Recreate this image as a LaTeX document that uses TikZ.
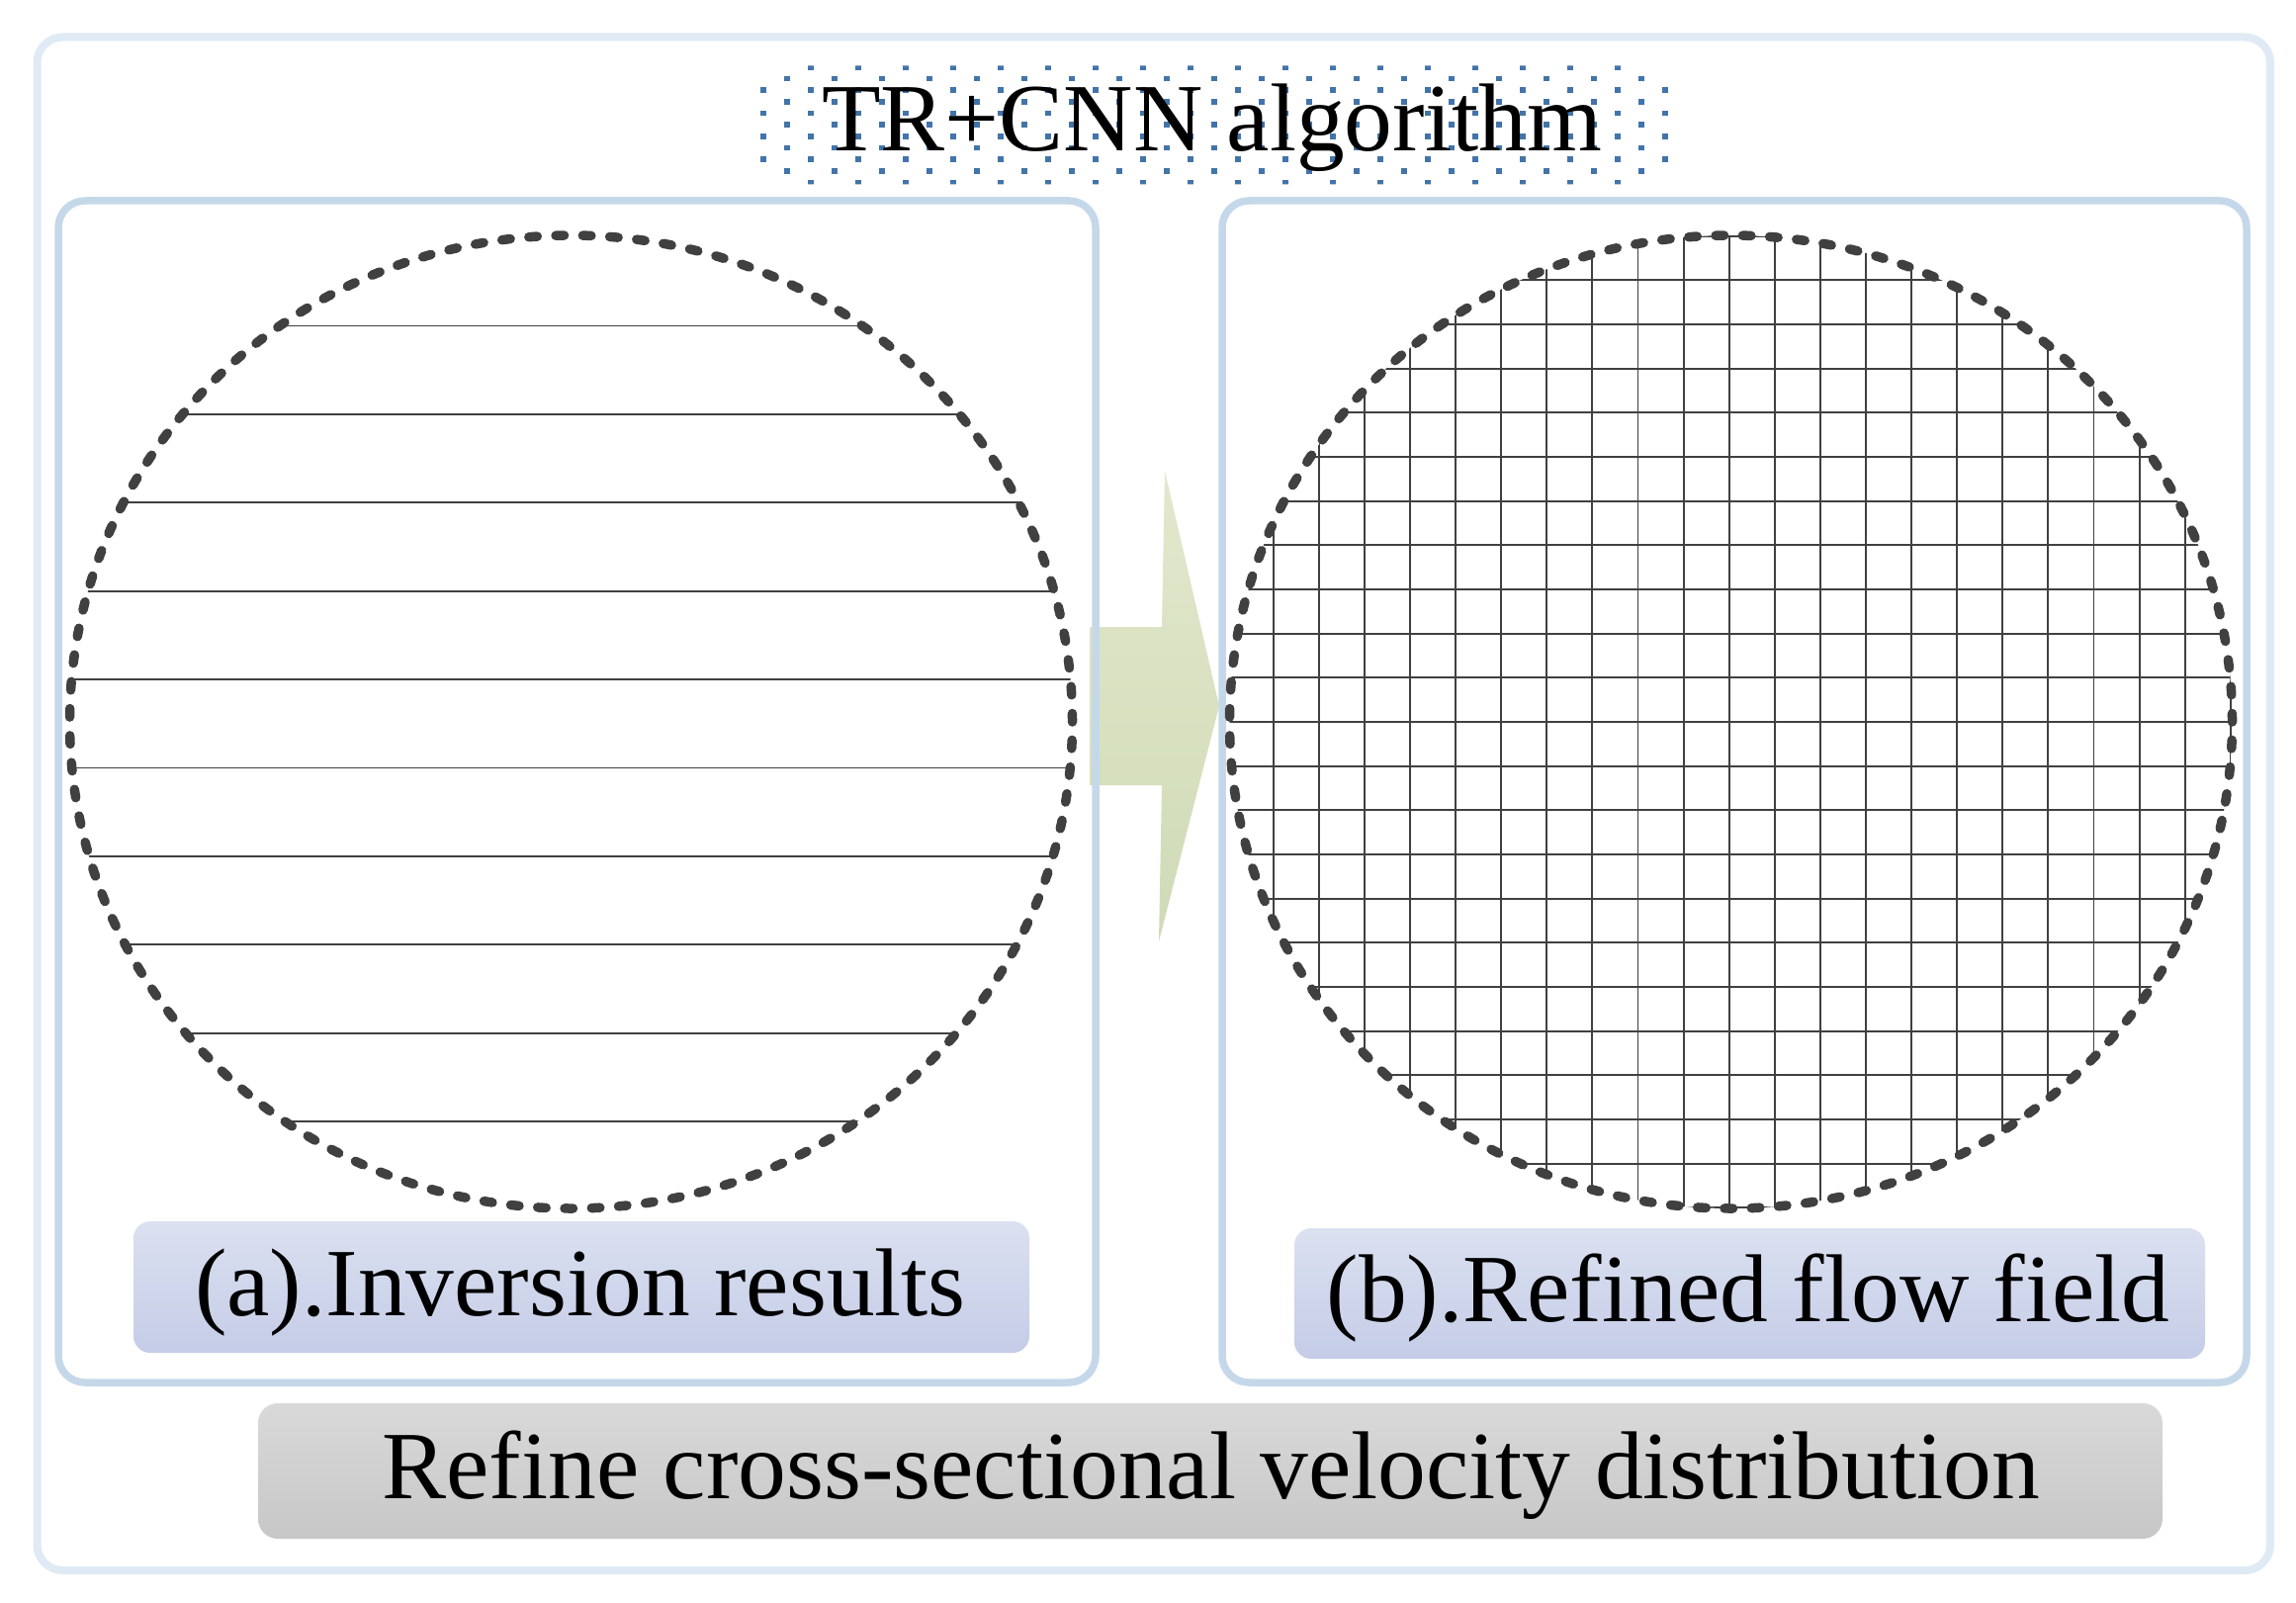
\documentclass[tikz,border=0pt]{standalone}
\usepackage{fontspec}
\setmainfont[Ligatures=NoCommon]{Liberation Serif}
\definecolor{outerc}{RGB}{223,234,244}
\definecolor{panelc}{RGB}{197,216,233}
\definecolor{dotc}{RGB}{66,116,170}
\definecolor{darkc}{RGB}{64,64,64}
\definecolor{arrowtop}{RGB}{226,232,205}
\definecolor{arrowbot}{RGB}{208,218,182}
\definecolor{labtop}{RGB}{219,225,240}
\definecolor{labbot}{RGB}{197,204,231}
\definecolor{bartop}{RGB}{217,217,217}
\definecolor{barbot}{RGB}{199,199,199}
\begin{document}
\begin{tikzpicture}[x=1pt,y=-1pt,
  framebox/.style={draw=outerc, line width=8pt, rounded corners=26pt, inner sep=0pt},
  panelbox/.style={draw=panelc, line width=7.5pt, rounded corners=27pt, inner sep=0pt},
  gridline/.style={draw=darkc, line width=1.9pt},
  rim/.style={draw=darkc, line width=9.5pt, line cap=round, dash pattern=on 8.5pt off 18.8pt},
  labelbox/.style={rounded corners=17pt, top color=labtop, bottom color=labbot, draw=none, inner sep=0pt},
  barbox/.style={rounded corners=20pt, top color=bartop, bottom color=barbot, draw=none, inner sep=0pt},
  txt/.style={font=\fontsize{97.5pt}{112pt}\selectfont, inner sep=0pt, anchor=base}
]
\useasboundingbox (0,0) rectangle (2322,1621);

% outer frame
\node[framebox, minimum width=2258.5pt, minimum height=1550.5pt] (outer) at (1166.75,812.75) {};

% dotted title background
\begin{scope}
\clip[rounded corners=22pt] (766,66.5) rectangle (1689,186.5);
\foreach \i in {0,...,10} {
  \pgfmathsetmacro{\doty}{67.7+11.67*\i}
  \pgfmathsetmacro{\dotoff}{24*mod(\i,2)}
  \foreach \j in {0,...,19} {
    \fill[dotc] (771.7+\dotoff+48*\j-2.85, \doty-2.85) rectangle ++(5.7,5.7);
  }
}
\end{scope}
\node[txt] (title) at (1225.5,153) {TR+CNN algorithm};

% big arrow
\shade[top color=arrowtop, bottom color=arrowbot]
  (1102,634) -- (1175,634) -- (1178,476) -- (1233,714) -- (1172,952) -- (1175,794) -- (1102,794) -- cycle;

% panels
\node[panelbox, minimum width=1049pt, minimum height=1195pt] (pa) at (583.5,800.5) {};
\node[panelbox, minimum width=1036pt, minimum height=1195pt] (pb) at (1754,800.5) {};

% left circle with horizontal lines
\coordinate (ca) at (577.5,730);
\begin{scope}
\clip (ca) ellipse [x radius=507pt, y radius=492pt];
\foreach \k in {0,...,9} {
  \draw[gridline] (60, 329.5+89.4*\k) -- (1100, 329.5+89.4*\k);
}
\end{scope}
\draw[rim] (ca) ellipse [x radius=507pt, y radius=492pt];

% right circle with grid
\coordinate (cb) at (1750.5,730);
\begin{scope}
\clip (cb) ellipse [x radius=507pt, y radius=492pt];
\foreach \k in {-11,...,11} {
  \draw[gridline] (1748.7+46.1*\k, 230) -- (1748.7+46.1*\k, 1230);
  \draw[gridline] (1235, 730+44.67*\k) -- (2265, 730+44.67*\k);
}
\end{scope}
\draw[rim] (cb) ellipse [x radius=507pt, y radius=492pt];

% labels
\node[labelbox, minimum width=906pt, minimum height=133pt] (boxa) at (588,1301.5) {};
\node[txt] (texta) at (587,1330) {(a).Inversion results};
\node[labelbox, minimum width=921pt, minimum height=132pt] (boxb) at (1769.5,1308) {};
\node[txt] (textb) at (1768,1336.5) {(b).Refined flow field};

% bottom bar
\node[barbox, minimum width=1926pt, minimum height=137pt] (bar) at (1224,1487.5) {};
\node[txt] (bartext) at (1224.5,1515) {Refine cross-sectional velocity distribution};
\end{tikzpicture}
\end{document}
